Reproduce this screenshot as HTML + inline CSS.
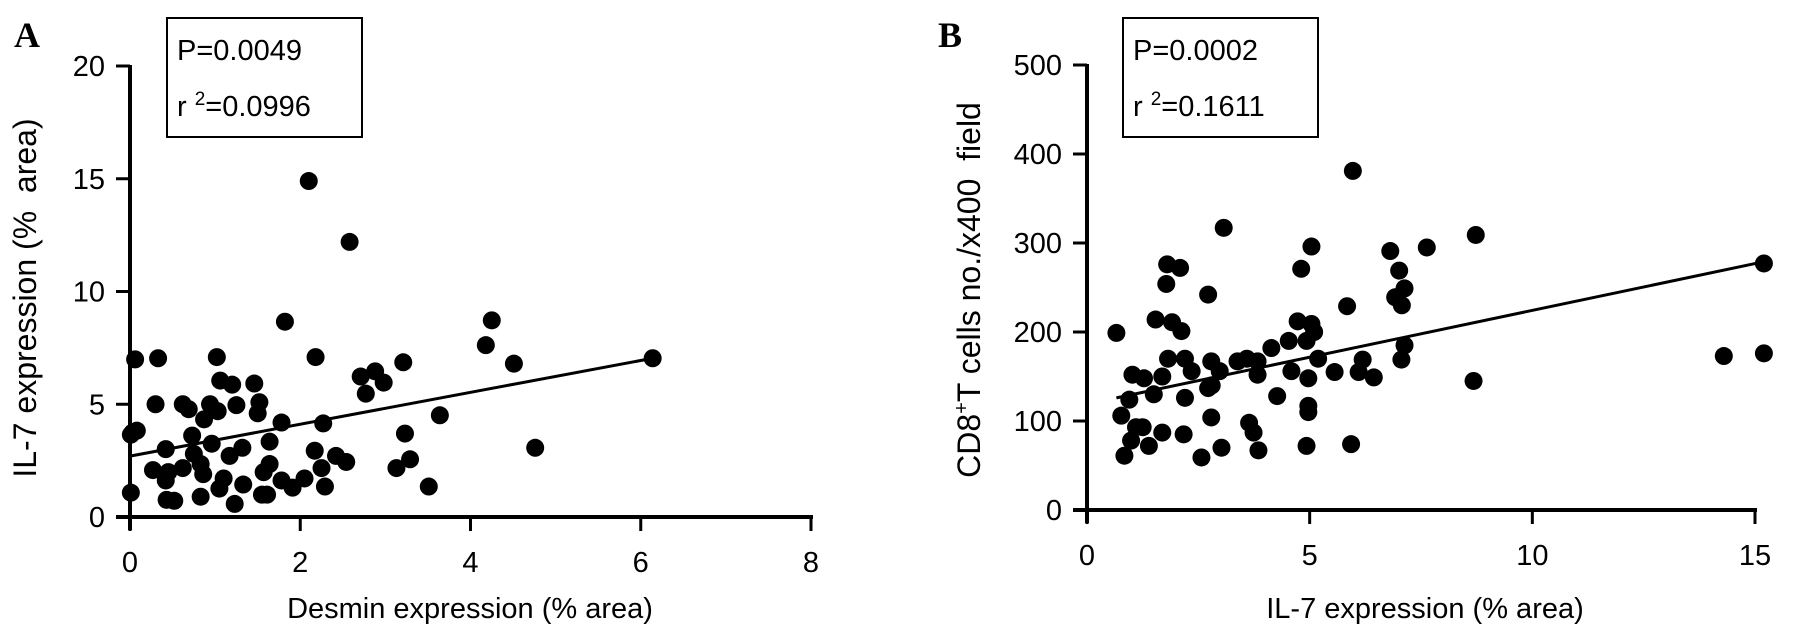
<!DOCTYPE html>
<html><head><meta charset="utf-8"><style>
html,body{margin:0;padding:0;background:#fff;}
svg{display:block;font-family:"Liberation Sans",sans-serif;}
</style></head><body>
<svg id="fig" width="1795" height="637" viewBox="0 0 1795 637">
  <g id="panelA">
    <text x="14" y="47" font-family="Liberation Serif" font-weight="bold" font-size="36">A</text>
    <rect x="167" y="18" width="195" height="119" fill="none" stroke="#000" stroke-width="2"/>
    <text x="177" y="60" font-size="29">P=0.0049</text>
    <text x="177" y="116" font-size="29">r <tspan font-size="19" dy="-11">2</tspan><tspan dy="11">=0.0996</tspan></text>
    <text transform="translate(36,298) rotate(-90)" text-anchor="middle" font-size="32" xml:space="preserve">IL-7 expression (%  area)</text>
    <text x="470" y="618" text-anchor="middle" font-size="29">Desmin expression (% area)</text>
  </g>
  <g id="panelB">
    <text x="938" y="47" font-family="Liberation Serif" font-weight="bold" font-size="36">B</text>
    <rect x="1123" y="18" width="195" height="119" fill="none" stroke="#000" stroke-width="2"/>
    <text x="1133" y="60" font-size="29">P=0.0002</text>
    <text x="1133" y="116" font-size="29">r <tspan font-size="19" dy="-11">2</tspan><tspan dy="11">=0.1611</tspan></text>
    <text transform="translate(980,290) rotate(-90)" text-anchor="middle" font-size="32" xml:space="preserve">CD8<tspan font-size="20" dy="-12">+</tspan><tspan dy="12">T cells no./x400  field</tspan></text>
    <text x="1425" y="618" text-anchor="middle" font-size="29">IL-7 expression (% area)</text>
  </g>
</svg>
<script>
// Panel A data
const aX = [2.10,2.58,1.82,4.25,4.18,4.51,6.14,0.06,0.33,1.02,2.18,3.21,1.06,1.20,1.46,2.71,2.88,2.98,2.77,0.30,0.62,0.69,0.94,1.03,1.25,1.52,1.50,0.87,1.78,2.27,3.64,0.03,0.08,0.73,3.23,0.96,0.42,1.32,1.64,1.17,0.75,2.17,2.42,2.54,3.29,4.76,0.27,0.45,0.62,0.83,0.86,0.42,1.10,1.64,1.57,2.25,3.13,1.78,2.05,1.91,2.29,1.33,1.05,3.51,0.01,0.43,0.52,0.83,1.23,1.55,1.61,0.01];
const aY = [14.9,12.2,8.66,8.72,7.62,6.80,7.04,6.99,7.04,7.09,7.09,6.86,6.05,5.87,5.92,6.23,6.46,5.96,5.47,5.00,5.00,4.78,5.00,4.69,4.96,5.09,4.60,4.33,4.19,4.15,4.51,3.74,3.83,3.61,3.70,3.25,3.01,3.07,3.34,2.71,2.80,2.94,2.71,2.44,2.56,3.07,2.08,1.99,2.17,2.35,1.90,1.62,1.71,2.35,1.99,2.17,2.17,1.62,1.71,1.30,1.35,1.44,1.26,1.35,1.08,0.76,0.72,0.90,0.58,0.99,0.99,3.65];
const aLineX = [0, 6.14];
const aLineY = [2.7, 7.04];
const aXTicks = [0,2,4,6,8];
const aYTicks = [0,5,10,15,20];
// Panel B data
const bX = [0.66,1.80,2.09,1.78,2.72,3.07,1.54,1.91,2.12,1.82,2.20,1.02,1.28,1.69,2.35,2.79,2.98,0.95,1.50,2.20,2.72,0.77,2.79,1.25,0.99,1.39,1.69,2.17,0.84,2.57,3.02,1.10,5.97,8.73,5.04,7.63,6.81,4.81,7.01,7.13,6.92,7.07,5.84,4.73,5.04,5.10,4.93,4.53,4.14,7.13,7.06,5.19,6.19,3.38,3.59,3.83,3.83,4.59,4.97,5.56,6.10,6.44,8.68,4.27,4.97,4.97,3.64,3.74,3.85,4.93,5.93,14.3,15.2,15.2,2.80];
const bY = [199,276,272,254,242,317,214,211,201,170,170,152,148,150,156,167,156,124,130,126,137,106,104,93,78,72,87,85,61,59,70,93,381,309,296,295,291,271,269,249,239,230,229,212,209,200,190,190,182,185,169,170,169,167,170,167,152,156,148,155,155,149,145,128,117,110,98,87,67,72,74,173,277,176,140];
const bLineX = [0.66, 15.2];
const bLineY = [126, 279];
const bXTicks = [0,5,10,15];
const bYTicks = [0,100,200,300,400,500];

const NS = "http://www.w3.org/2000/svg";
function mk(tag, attrs, parent){ const e=document.createElementNS(NS,tag); for(const k in attrs) e.setAttribute(k,attrs[k]); parent.appendChild(e); return e; }

function drawPanel(g, cfg){
  const sx = v => cfg.x0 + (v - cfg.xmin)/(cfg.xmax-cfg.xmin)*(cfg.x1-cfg.x0);
  const sy = v => cfg.y0 - (v - cfg.ymin)/(cfg.ymax-cfg.ymin)*(cfg.y0-cfg.y1);
  const yAxis = mk('line',{x1:sx(cfg.xmin),y1:sy(cfg.ymax)-1,x2:sx(cfg.xmin),y2:cfg.y0+13,stroke:'#000','stroke-width':4},g);
  
  
  const xAxis = mk('line',{x1:sx(cfg.xmin)-14,y1:cfg.y0,x2:sx(cfg.xmax)+2,y2:cfg.y0,stroke:'#000','stroke-width':4},g);
  
  
  cfg.xt.forEach(t=>{
    const tk = mk('line',{x1:sx(t),y1:cfg.y0,x2:sx(t),y2:cfg.y0+14,stroke:'#000','stroke-width':3},g);
    
    
    const lb = mk('text',{x:sx(t),y:cfg.y0+55,'text-anchor':'middle','font-size':29},g);
    lb.textContent = t;
    
    
  });
  cfg.yt.forEach(t=>{
    const tk = mk('line',{x1:sx(cfg.xmin)-14,y1:sy(t),x2:sx(cfg.xmin),y2:sy(t),stroke:'#000','stroke-width':3},g);
    
    
    const lb = mk('text',{x:sx(cfg.xmin)-25,y:sy(t)+10,'text-anchor':'end','font-size':29},g);
    lb.textContent = t;
    
    
  });
  cfg.xs.forEach((v,i)=>{
    const c = mk('circle',{cx:sx(v),cy:sy(cfg.ys[i]),r:9,fill:'#000'},g);
    
    
  });
  const ln = mk('line',{x1:sx(cfg.lx[0]),y1:sy(cfg.ly[0]),x2:sx(cfg.lx[1]),y2:sy(cfg.ly[1]),stroke:'#000','stroke-width':3},g);
  
  
}
drawPanel(document.getElementById('panelA'),{p:'panel-a',x0:130,x1:811,y0:517,y1:66,xmin:0,xmax:8,ymin:0,ymax:20,xt:aXTicks,yt:aYTicks,xs:aX,ys:aY,lx:aLineX,ly:aLineY});
drawPanel(document.getElementById('panelB'),{p:'panel-b',x0:1087,x1:1755,y0:510,y1:65,xmin:0,xmax:15,ymin:0,ymax:500,xt:bXTicks,yt:bYTicks,xs:bX,ys:bY,lx:bLineX,ly:bLineY});
</script>
</body></html>
